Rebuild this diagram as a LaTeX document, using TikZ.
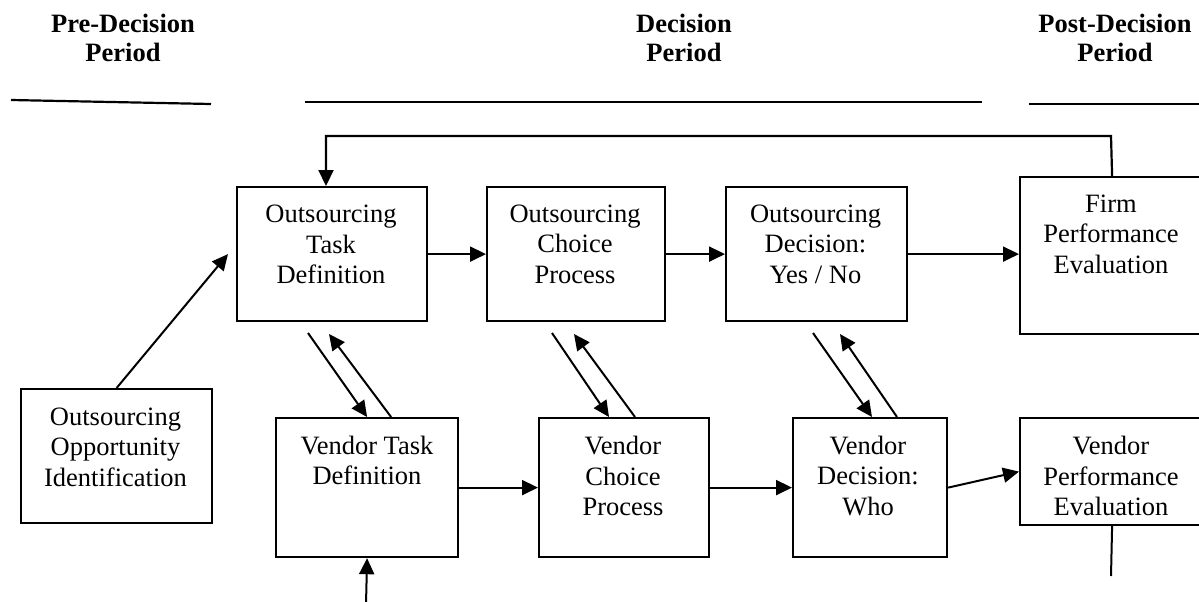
\documentclass[tikz,border=0pt]{standalone}
\usepackage{fontspec}
\setmainfont{Liberation Serif}
\usetikzlibrary{arrows.meta}
\tikzset{
  box/.style={draw, line width=2.2pt, inner sep=0pt, anchor=north west, fill=none},
  lbl/.style={align=center, inner sep=0pt, font=\fontsize{26.5}{30.5}\selectfont},
  hdr/.style={align=center, inner sep=0pt, font=\fontsize{26.5}{29}\selectfont\bfseries},
  arr/.style={line width=2pt, -{Triangle[length=16pt,width=15pt]}},
  plain/.style={line width=2pt},
  rule/.style={line width=2.2pt}
}
\begin{document}
\begin{tikzpicture}[x=1pt,y=-1pt]
\useasboundingbox (0,0) rectangle (1199,602);
\clip (0,0) rectangle (1199,602);

% headers
\node[hdr] (hpre) at (123,37.5) {Pre-Decision\\Period};
\node[hdr] (hdec) at (684,37.5) {Decision\\Period};
\node[hdr] (hpost) at (1115,37.5) {Post-Decision\\Period};
\coordinate (pa) at (11,100); \coordinate (pb) at (211,104);
\coordinate (da) at (305,102); \coordinate (db) at (982,102);
\coordinate (qa) at (1029,104); \coordinate (qb) at (1205,104);
\draw[rule] (pa) -- (pb);
\draw[rule] (da) -- (db);
\draw[rule] (qa) -- (qb);

% boxes
\node[box, minimum width=190pt, minimum height=134pt] (otd) at (236,186) {};
\node[box, minimum width=178pt, minimum height=134pt] (ocp) at (486,186) {};
\node[box, minimum width=181pt, minimum height=134pt] (ody) at (725,186) {};
\node[box, minimum width=184pt, minimum height=157pt] (firm) at (1019,176) {};
\node[box, minimum width=191pt, minimum height=134pt] (ooi) at (20,388) {};
\node[box, minimum width=182pt, minimum height=139pt] (vtd) at (275,417) {};
\node[box, minimum width=170pt, minimum height=139pt] (vcp) at (538,417) {};
\node[box, minimum width=154pt, minimum height=139pt] (vdw) at (792,417) {};
\node[box, minimum width=184pt, minimum height=107pt] (vpe) at (1019,417) {};

% labels
\node[lbl] (totd) at (331,244.5) {Outsourcing\\Task\\Definition};
\node[lbl] (tocp) at (575,244) {Outsourcing\\Choice\\Process};
\node[lbl] (tody) at (815.5,244) {Outsourcing\\Decision:\\Yes / No};
\node[lbl] (tfirm) at (1111,234) {Firm\\Performance\\Evaluation};
\node[lbl] (tooi) at (115.5,447) {Outsourcing\\Opportunity\\Identification};
\node[lbl] (tvtd) at (367,460.5) {Vendor Task\\Definition};
\node[lbl] (tvcp) at (623,476) {Vendor\\Choice\\Process};
\node[lbl] (tvdw) at (868,476) {Vendor\\Decision:\\Who};
\node[lbl] (tvpe) at (1111,476) {Vendor\\Performance\\Evaluation};

% top row connectors
\draw[arr] (otd.east) -- (ocp.west);
\draw[arr] (ocp.east) -- (ody.west);
\draw[arr] (ody.east) -- (ody.east -| firm.west);

% feedback loop
\coordinate (fbr) at (1111,136);
\coordinate (fbl) at (326,136);
\draw[arr, line width=2.2pt] (firm.north) -- (fbr) -- (fbl) -- (fbl |- otd.north);

% opportunity -> task definition
\draw[arr] (ooi.north) -- ([xshift=-8pt]otd.west);

% diagonal pairs
\coordinate (d1s) at (308,333); \coordinate (u1e) at (329,334);
\coordinate (d2s) at (552,333); \coordinate (u2e) at (574,334);
\coordinate (d3s) at (813,333); \coordinate (u3e) at (840,334);
\draw[arr] (d1s) -- (vtd.north);
\draw[arr] ([xshift=24pt]vtd.north) -- (u1e);
\draw[arr] (d2s) -- ([xshift=71pt]vcp.north west);
\draw[arr] ([xshift=97pt]vcp.north west) -- (u2e);
\draw[arr] (d3s) -- ([xshift=80pt]vdw.north west);
\draw[arr] ([xshift=105pt]vdw.north west) -- (u3e);

% bottom row connectors
\draw[arr] (vtd.east) -- (vcp.west);
\draw[arr] (vcp.east) -- (vdw.west);
\draw[arr] (vdw.east) -- (vpe.west);
\coordinate (vpeo) at (1111,576);
\draw[plain] (vpe.south) -- (vpeo);
\coordinate (vin) at (366,604);
\draw[arr] (vin) -- (vtd.south);
\end{tikzpicture}
\end{document}
